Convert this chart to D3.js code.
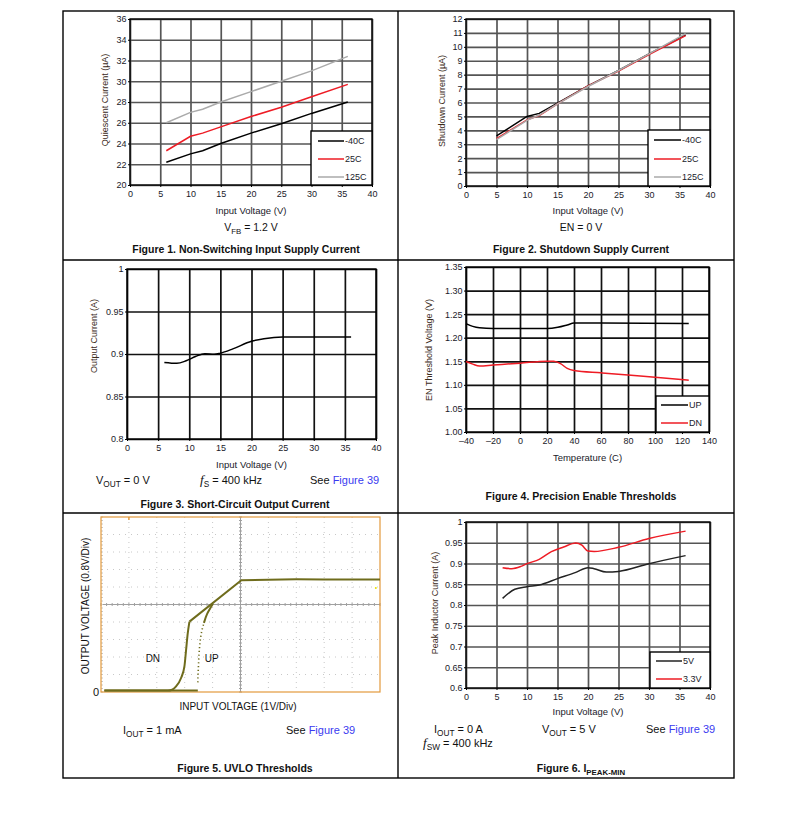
<!DOCTYPE html>
<html><head><meta charset="utf-8">
<script src="https://cdn.jsdelivr.net/npm/d3@7"></script>
<style>
body{margin:0;background:#fff}
svg{display:block}
text{font-family:"Liberation Sans",Arial,sans-serif}
</style>
</head><body>
<svg id="c" width="794" height="818"></svg>
<script>
// ---------- DATA ----------
const xTicks40 = [0,5,10,15,20,25,30,35,40];

// Figure 1
const fig1YTicks = [20,22,24,26,28,30,32,34,36];
const fig1Vin = [6,10,12,15,20,25,30,36];
const fig1M40 = [22.2,23.0,23.3,24.0,25.0,25.9,26.9,28.0];
const fig1T25 = [23.3,24.7,25.0,25.6,26.6,27.5,28.5,29.7];
const fig1T125 = [26.0,27.0,27.3,28.0,29.0,30.0,31.0,32.4];
const fig1Legend = ["-40C","25C","125C"];

// Figure 2
const fig2YTicks = [0,1,2,3,4,5,6,7,8,9,10,11,12];
const fig2Vin = [5,10,12,15,20,25,30,36];
const fig2M40 = [3.6,5.0,5.22,5.95,7.2,8.3,9.5,10.85];
const fig2T25 = [3.4,4.75,5.06,5.9,7.2,8.25,9.45,10.8];
const fig2T125 = [3.33,4.72,5.1,5.9,7.15,8.3,9.5,10.95];
const fig2Legend = ["-40C","25C","125C"];

// Figure 3
const fig3YTicks = [0.8,0.85,0.9,0.95,1];
const fig3YLabels = ["0.8","0.85","0.9","0.95","1"];
const fig3Vin = [6,8,9.5,11,12.5,14,15,17,20,22,25,30,36];
const fig3Iout = [0.890,0.889,0.892,0.897,0.9004,0.8996,0.901,0.906,0.915,0.918,0.920,0.920,0.920];

// Figure 4
const fig4XTicks = [-40,-20,0,20,40,60,80,100,120,140];
const fig4XLabels = ["\u201340","\u201320","0","20","40","60","80","100","120","140"];
const fig4YTicks = [1.00,1.05,1.10,1.15,1.20,1.25,1.30,1.35];
const fig4YLabels = ["1.00","1.05","1.10","1.15","1.20","1.25","1.30","1.35"];
const fig4TempUp = [-40,-35,-30,-20,0,20,28,35,40,60,125];
const fig4Up = [1.230,1.224,1.221,1.2195,1.2195,1.2195,1.222,1.227,1.231,1.231,1.230];
const fig4TempDn = [-40,-35,-30,-20,0,20,25,30,35,40,60,80,100,125];
const fig4Dn = [1.1496,1.144,1.140,1.142,1.146,1.1503,1.150,1.145,1.135,1.1306,1.1256,1.1207,1.116,1.110];
const fig4Legend = ["UP","DN"];

// Figure 5 (scope trace, in divisions)
const fig5DnRiseX = [0.12,2.40,2.55,2.69,2.87,2.99,3.05,3.11,3.17];
const fig5DnRiseY = [0.08,0.08,0.13,0.32,0.80,1.46,2.41,3.36,4.02];
const fig5DnTopX = [3.17,5.03,6.0,7.0,8.0,10.0];
const fig5DnTopY = [4.02,6.39,6.42,6.44,6.43,6.43];
const fig5UpFlatX = [0.12,3.47];
const fig5UpFlatY = [0.08,0.08];
const fig5UpDotX = [3.47,3.49,3.52,3.57,3.63,3.69];
const fig5UpDotY = [0.55,1.40,2.30,3.10,3.60,3.95];
const fig5UpX = [3.69,3.80,3.92,4.01];
const fig5UpY = [3.95,4.45,4.80,5.05];

// Figure 6
const fig6YTicks = [0.6,0.65,0.7,0.75,0.8,0.85,0.9,0.95,1];
const fig6YLabels = ["0.6","0.65","0.7","0.75","0.8","0.85","0.9","0.95","1"];
const fig6Vin5 = [6,8,10,12,15,18,20,21,23,25,30,36];
const fig6I5 = [0.816,0.838,0.844,0.848,0.8635,0.8787,0.890,0.8875,0.8795,0.881,0.8996,0.919];
const fig6Vin33 = [6,7.5,9,10,12,14,16,18,19,20,21,25,30,36];
const fig6I33 = [0.890,0.8875,0.893,0.8996,0.910,0.9285,0.9398,0.9494,0.944,0.930,0.929,0.939,0.960,0.978];
const fig6Legend = ["5V","3.3V"];

// ---------- DRAW ----------
const svg = d3.select("#c");
const RED = "#ee1c25", GRAY = "#aaaaaa", BLK = "#000", LINK = "#3a3af0";

// table frame
svg.append("rect").attr("x",63).attr("y",11).attr("width",671).attr("height",767)
  .attr("fill","none").attr("stroke","#000").attr("stroke-width",1.4);
svg.append("line").attr("x1",398).attr("x2",398).attr("y1",11).attr("y2",778).attr("stroke","#000").attr("stroke-width",1.4);
[260,513].forEach(yy=>svg.append("line").attr("x1",63).attr("x2",734).attr("y1",yy).attr("y2",yy).attr("stroke","#000").attr("stroke-width",1.4));

function zip(a,b){return a.map((v,i)=>[v,b[i]]);}

function panel(o){
  const x = d3.scaleLinear().domain(o.xDomain).range([o.l,o.r]);
  const y = d3.scaleLinear().domain(o.yDomain).range([o.b,o.t]);
  const g = svg.append("g");
  const w = o.r-o.l, h = o.b-o.t;
  // grid
  const gx = g.append("g").attr("transform",`translate(0,${o.b})`)
    .call(d3.axisBottom(x).tickValues(o.xTicks).tickSize(-h).tickFormat(""));
  const gy = g.append("g").attr("transform",`translate(${o.l},0)`)
    .call(d3.axisLeft(y).tickValues(o.yTicks).tickSize(-w).tickFormat(""));
  [gx,gy].forEach(a=>{a.select(".domain").remove();
    a.selectAll("line").attr("stroke",o.grid).attr("stroke-width",1.7);});
  // labels
  const lx = g.append("g").attr("transform",`translate(0,${o.b})`)
    .call(d3.axisBottom(x).tickValues(o.xTicks).tickSize(2).tickPadding(4)
      .tickFormat((d,i)=>o.xLabels?o.xLabels[i]:d));
  const ly = g.append("g").attr("transform",`translate(${o.l},0)`)
    .call(d3.axisLeft(y).tickValues(o.yTicks).tickSize(2).tickPadding(1.5)
      .tickFormat((d,i)=>o.yLabels?o.yLabels[i]:d));
  [lx,ly].forEach(a=>{a.select(".domain").remove();
    a.selectAll("line").attr("stroke","#000");
    a.selectAll("text").attr("font-size",9).attr("fill","#1a1a2a").attr("font-family",'"Liberation Sans",Arial,sans-serif');});
  // frame
  g.append("rect").attr("x",o.l).attr("y",o.t).attr("width",w).attr("height",h)
    .attr("fill","none").attr("stroke","#000").attr("stroke-width",1.4);
  // series
  o.series.forEach(s=>{
    g.append("path").datum(zip(s.x,s.y))
      .attr("d",d3.line().x(d=>x(d[0])).y(d=>y(d[1])).curve(s.curve||d3.curveMonotoneX))
      .attr("fill","none").attr("stroke",s.color).attr("stroke-width",1.5);
  });
  // legend
  if(o.legend){
    const L = o.legend;
    g.append("rect").attr("x",L.x).attr("y",L.y).attr("width",o.r-L.x).attr("height",o.b-L.y)
      .attr("fill","#fff").attr("stroke","#000").attr("stroke-width",1.4);
    L.names.forEach((n,i)=>{
      const yy = L.rows[i];
      g.append("line").attr("x1",L.lx0).attr("x2",L.lx1).attr("y1",yy).attr("y2",yy)
        .attr("stroke",o.series[i].color).attr("stroke-width",1.5);
      g.append("text").attr("x",L.lx1+1).attr("y",yy).attr("dy","0.35em").attr("font-size",9)
        .attr("fill","#1a1a2a").text(n);
    });
  }
  // y title
  g.append("text").attr("transform",`translate(${o.ytx},${o.yty}) rotate(-90)`)
    .attr("text-anchor","middle").attr("font-size",9).attr("fill","#3a2a1a").text(o.ytitle);
  // x title
  g.append("text").attr("x",(o.l+o.r)/2).attr("y",o.xty).attr("text-anchor","middle")
    .attr("font-size",9.5).attr("fill","#1a1a2a").text(o.xtitle);
  return {x,y,g};
}

function rich(x,y,parts,opts={}){
  const t = svg.append("text").attr("x",x).attr("y",y).attr("font-size",opts.size||11)
    .attr("fill","#111").attr("text-anchor",opts.anchor||"start");
  if(opts.bold) t.attr("font-weight","bold");
  parts.forEach(p=>{
    const s = t.append("tspan").text(p.t);
    if(p.sub) s.attr("font-size",(opts.size||11)*0.75).attr("dy",2.5);
    if(p.up) s.attr("dy",-2.5);
    if(p.it) s.attr("font-family",'"Liberation Serif","Times New Roman",serif').attr("font-style","italic").attr("font-size",(opts.size||11)*1.2);
    if(p.link) s.attr("fill",LINK);
  });
  return t;
}
function caption(cx,y,parts){ return rich(cx,y,parts,{bold:true,size:10.5,anchor:"middle"}); }

// Figure 1
panel({l:130,r:372,t:19,b:185,xDomain:[0,40],yDomain:[20,36],xTicks:xTicks40,yTicks:fig1YTicks,
  grid:"#555",
  series:[{x:fig1Vin,y:fig1M40,color:BLK,curve:d3.curveLinear},
          {x:fig1Vin,y:fig1T25,color:RED,curve:d3.curveLinear},
          {x:fig1Vin,y:fig1T125,color:GRAY,curve:d3.curveLinear}],
  legend:{x:311,y:131,names:fig1Legend,rows:[141,159,177],lx0:318,lx1:344},
  ytitle:"Quiescent Current (\u00b5A)",ytx:108,yty:100,xtitle:"Input Voltage (V)",xty:214});
rich(251,231,[{t:"V"},{t:"FB",sub:true},{t:" = 1.2 V",up:true}],{anchor:"middle",size:10.5});
caption(246,253,[{t:"Figure 1. Non-Switching Input Supply Current"}]);

// Figure 2
panel({l:466,r:710,t:19,b:186,xDomain:[0,40],yDomain:[0,12],xTicks:xTicks40,yTicks:fig2YTicks,
  grid:"#555",
  series:[{x:fig2Vin,y:fig2M40,color:BLK,curve:d3.curveLinear},
          {x:fig2Vin,y:fig2T25,color:RED,curve:d3.curveLinear},
          {x:fig2Vin,y:fig2T125,color:GRAY,curve:d3.curveLinear}],
  legend:{x:648,y:130,names:fig2Legend,rows:[140,159,177],lx0:654,lx1:681},
  ytitle:"Shutdown Current (\u00b5A)",ytx:445,yty:101,xtitle:"Input Voltage (V)",xty:214});
rich(581,231,[{t:"EN = 0 V"}],{anchor:"middle",size:10.5});
caption(581,253,[{t:"Figure 2. Shutdown Supply Current"}]);

// Figure 3
panel({l:127,r:376,t:269,b:439,xDomain:[0,40],yDomain:[0.8,1],xTicks:xTicks40,yTicks:fig3YTicks,yLabels:fig3YLabels,
  grid:"#111",
  series:[{x:fig3Vin,y:fig3Iout,color:BLK}],
  ytitle:"Output Current (A)",ytx:97,yty:336,xtitle:"Input Voltage (V)",xty:468});
rich(96,484,[{t:"V"},{t:"OUT",sub:true},{t:" = 0 V",up:true}],{size:11});
rich(200,484,[{t:"f",it:true},{t:"S",sub:true},{t:" = 400 kHz",up:true}],{size:11});
rich(310,484,[{t:"See "},{t:"Figure 39",link:true}],{size:11});
caption(235,508,[{t:"Figure 3. Short-Circuit Output Current"}]);

// Figure 4
panel({l:466,r:709,t:267,b:432,xDomain:[-40,140],yDomain:[1.0,1.35],xTicks:fig4XTicks,xLabels:fig4XLabels,
  yTicks:fig4YTicks,yLabels:fig4YLabels,grid:"#111",
  series:[{x:fig4TempUp,y:fig4Up,color:BLK},{x:fig4TempDn,y:fig4Dn,color:RED}],
  legend:{x:656,y:396,names:fig4Legend,rows:[405,423],lx0:661,lx1:688},
  ytitle:"EN Threshold Voltage (V)",ytx:432,yty:350,xtitle:"Temperature (C)",xty:461});
caption(581,500,[{t:"Figure 4. Precision Enable Thresholds"}]);

// Figure 5 (scope)
(function(){
  const l=101,r=380,t=517,b=692;
  const x = d3.scaleLinear().domain([0,10]).range([l,r]);
  const y = d3.scaleLinear().domain([0,10]).range([b,t]);
  const g = svg.append("g");
  const divs = d3.range(1,10);
  g.selectAll(null).data(divs.filter(d=>d!==5)).join("line")
    .attr("x1",d=>x(d)).attr("x2",d=>x(d)).attr("y1",t).attr("y2",b)
    .attr("stroke","#c8c8c8").attr("stroke-width",1).attr("stroke-dasharray","1,4");
  g.selectAll(null).data(divs.filter(d=>d!==5)).join("line")
    .attr("y1",d=>y(d)).attr("y2",d=>y(d)).attr("x1",l).attr("x2",r)
    .attr("stroke","#c8c8c8").attr("stroke-width",1).attr("stroke-dasharray","1,5");
  g.append("line").attr("x1",x(5)).attr("x2",x(5)).attr("y1",t).attr("y2",b).attr("stroke","#a0a0a0").attr("stroke-width",1);
  g.append("line").attr("y1",y(5)).attr("y2",y(5)).attr("x1",l).attr("x2",r).attr("stroke","#a0a0a0").attr("stroke-width",1);
  const minor = d3.range(0,10.01,0.2);
  g.selectAll(null).data(minor).join("line")
    .attr("x1",d=>x(d)).attr("x2",d=>x(d)).attr("y1",y(5)-1.5).attr("y2",y(5)+1.5).attr("stroke","#a0a0a0");
  g.selectAll(null).data(minor).join("line")
    .attr("y1",d=>y(d)).attr("y2",d=>y(d)).attr("x1",x(5)-1.5).attr("x2",x(5)+1.5).attr("stroke","#a0a0a0");
  g.selectAll(null).data(minor).join("line")
    .attr("y1",d=>y(d)).attr("y2",d=>y(d)).attr("x1",l).attr("x2",l+2).attr("stroke","#c8c8c8");
  g.append("rect").attr("x",l).attr("y",t).attr("width",r-l).attr("height",b-t)
    .attr("fill","none").attr("stroke","#e39a3c").attr("stroke-width",1.2);
  g.append("line").attr("x1",x(1)).attr("x2",x(1)).attr("y1",t).attr("y2",t+3).attr("stroke","#e39a3c").attr("stroke-width",1.5);
  const TR = "#6f6c1c";
  const lnL = d3.line().x(d=>x(d[0])).y(d=>y(d[1]));
  const lnC = d3.line().x(d=>x(d[0])).y(d=>y(d[1])).curve(d3.curveMonotoneY);
  g.append("path").datum(zip(fig5UpFlatX,fig5UpFlatY)).attr("d",lnL).attr("fill","none").attr("stroke",TR).attr("stroke-width",2);
  g.append("path").datum(zip(fig5UpDotX,fig5UpDotY)).attr("d",lnC)
    .attr("fill","none").attr("stroke",TR).attr("stroke-width",1.6).attr("stroke-dasharray","1.2,2.6");
  g.append("path").datum(zip(fig5UpX,fig5UpY)).attr("d",lnC)
    .attr("fill","none").attr("stroke",TR).attr("stroke-width",2);
  g.append("path").datum(zip(fig5DnRiseX,fig5DnRiseY)).attr("d",d3.line().x(d=>x(d[0])).y(d=>y(d[1])).curve(d3.curveMonotoneX))
    .attr("fill","none").attr("stroke",TR).attr("stroke-width",2);
  g.append("path").datum(zip(fig5DnTopX,fig5DnTopY)).attr("d",lnL)
    .attr("fill","none").attr("stroke",TR).attr("stroke-width",2).attr("stroke-linejoin","round");
  g.append("circle").attr("cx",x(9.85)).attr("cy",y(5.94)).attr("r",1).attr("fill","#e8e000");
  g.append("text").attr("x",x(1.6)).attr("y",y(1.72)).attr("font-size",10).attr("fill","#111").text("DN");
  g.append("text").attr("x",x(3.72)).attr("y",y(1.72)).attr("font-size",10).attr("fill","#111").text("UP");
  g.append("text").attr("x",l-2).attr("y",b).attr("dy","0.35em").attr("text-anchor","end").attr("font-size",11).attr("fill","#111").text("0");
  g.append("text").attr("transform",`translate(89,606) rotate(-90)`).attr("text-anchor","middle")
    .attr("font-size",10).attr("fill","#111").text("OUTPUT VOLTAGE (0.8V/Div)");
  g.append("text").attr("x",238).attr("y",710).attr("text-anchor","middle").attr("font-size",10).attr("fill","#111").text("INPUT VOLTAGE (1V/Div)");
})();
rich(123,734,[{t:"I"},{t:"OUT",sub:true},{t:" = 1 mA",up:true}],{size:11});
rich(286,734,[{t:"See "},{t:"Figure 39",link:true}],{size:11});
caption(245,772,[{t:"Figure 5. UVLO Thresholds"}]);

// Figure 6
panel({l:466,r:710,t:522,b:688,xDomain:[0,40],yDomain:[0.6,1],xTicks:xTicks40,yTicks:fig6YTicks,yLabels:fig6YLabels,
  grid:"#555",
  series:[{x:fig6Vin5,y:fig6I5,color:"#222"},{x:fig6Vin33,y:fig6I33,color:RED}],
  legend:{x:650,y:652,names:fig6Legend,rows:[661,679],lx0:656,lx1:682},
  ytitle:"Peak Inductor Current (A)",ytx:438,yty:603,xtitle:"Input Voltage (V)",xty:715});
rich(434,733,[{t:"I"},{t:"OUT",sub:true},{t:" = 0 A",up:true}],{size:11});
rich(542,733,[{t:"V"},{t:"OUT",sub:true},{t:" = 5 V",up:true}],{size:11});
rich(646,733,[{t:"See "},{t:"Figure 39",link:true}],{size:11});
rich(423,747,[{t:"f",it:true},{t:"SW",sub:true},{t:" = 400 kHz",up:true}],{size:11});
caption(581,772,[{t:"Figure 6. I"},{t:"PEAK-MIN",sub:true}]);
</script>
</body></html>
